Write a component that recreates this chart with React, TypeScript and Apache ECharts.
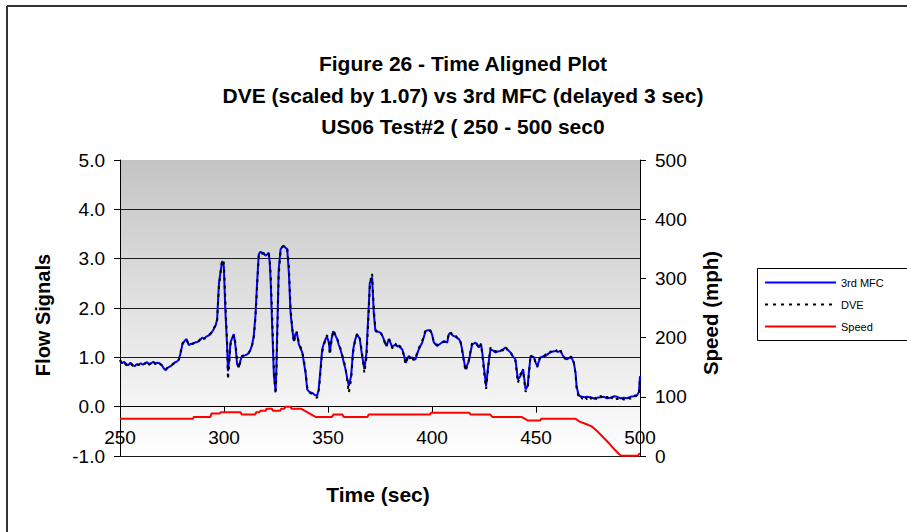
import React, { useEffect, useRef } from "react";
import * as echarts from "echarts";

const titleLines = [
  "Figure 26 - Time Aligned Plot",
  "DVE (scaled by 1.07) vs 3rd MFC (delayed 3 sec)",
  "US06 Test#2 ( 250 - 500 sec0",
];
const seriesNames = ["3rd MFC", "DVE", "Speed"];
const xAxisTitle = "Time (sec)";
const leftAxisTitle = "Flow Signals";
const rightAxisTitle = "Speed (mph)";

// 3rd MFC flow signal [time (s), value]
const mfcPoints: [number, number][] = [
  [250, 0.93], [251, 0.88], [252, 0.91], [253, 0.86], [254, 0.84], [255, 0.89], [256, 0.85],
  [257, 0.82], [258, 0.86], [259, 0.85], [260, 0.88], [261, 0.85], [262, 0.88], [263, 0.9],
  [264, 0.86], [265, 0.88], [266, 0.91], [267, 0.87], [268, 0.89], [269, 0.88], [270, 0.85],
  [271, 0.78], [272, 0.74], [273, 0.79], [274.3, 0.82], [275.5, 0.86], [276.5, 0.9], [277.5, 0.92],
  [278.3, 0.95], [279.2, 1.1], [280, 1.26], [281, 1.33], [282, 1.37], [283, 1.25], [284, 1.27],
  [285, 1.28], [286, 1.3], [287, 1.31], [288, 1.33], [289.5, 1.4], [290.5, 1.38], [291.5, 1.42],
  [292.5, 1.44], [293.5, 1.47], [294.3, 1.52], [295, 1.57], [296, 1.65], [296.7, 1.77], [297.2, 2.2],
  [297.6, 2.51], [298.3, 2.72], [299.1, 2.95], [299.9, 2.85], [300.7, 1.9], [301.5, 1.23], [301.9, 0.72],
  [302.5, 0.95], [303.1, 1.3], [304, 1.4], [304.7, 1.47], [305.5, 1.23], [306.3, 0.86], [307.1, 0.8],
  [308, 0.95], [308.7, 1.03], [310, 1.04], [311.2, 1.06], [312, 1.1], [312.7, 1.15], [313.5, 1.25],
  [314.3, 1.43], [315.1, 1.84], [316, 2.58], [316.7, 3.09], [317.5, 3.14], [318.4, 3.12], [319.2, 3.1],
  [320, 3.06], [320.8, 3.09], [321.5, 3.12], [322, 2.9], [322.4, 2.58], [323.2, 1.57], [324, 0.62],
  [324.8, 0.32], [325.2, 0.8], [325.6, 1.57], [326.3, 2.78], [327.2, 3.19], [328, 3.24], [328.8, 3.26],
  [329.6, 3.22], [330.4, 3.19], [331.2, 2.7], [332, 1.9], [332.8, 1.57], [333.6, 1.33], [334.4, 1.48],
  [335, 1.5], [336, 1.26], [337.6, 1.1], [338.4, 0.9], [339.2, 0.69], [340, 0.35], [341, 0.3],
  [342.4, 0.28], [343.5, 0.24], [344.8, 0.22], [345.5, 0.35], [346.1, 0.62], [347.2, 1.16], [348, 1.28],
  [348.8, 1.37], [349.5, 1.42], [350.4, 1.3], [350.9, 1.1], [351.6, 1.35], [352.5, 1.53], [353.5, 1.45],
  [354.4, 1.37], [355.2, 1.25], [356, 1.16], [357, 1.0], [358.4, 0.76], [359.2, 0.58], [360, 0.42],
  [361.1, 0.62], [362.1, 1.16], [363, 1.35], [364, 1.47], [365.3, 1.37], [366.4, 1.03], [367.5, 0.76],
  [368.5, 1.1], [369.6, 2.04], [370.1, 2.51], [370.6, 2.55], [371.2, 2.62], [372, 1.9], [372.8, 1.53],
  [374, 1.52], [375.2, 1.5], [376, 1.45], [376.8, 1.37], [377.5, 1.28], [378.1, 1.23], [379.2, 1.37],
  [380, 1.3], [380.9, 1.2], [381.7, 1.24], [382.5, 1.26], [383.3, 1.22], [384, 1.23], [385.7, 1.16],
  [386.5, 1.05], [387.3, 0.89], [388, 0.95], [388.8, 1.03], [389.6, 0.98], [390.4, 1.0], [391.2, 0.95],
  [392, 0.96], [393.6, 1.16], [395.3, 1.3], [396.9, 1.53], [398, 1.55], [399.3, 1.55], [400.1, 1.45],
  [400.9, 1.3], [402.5, 1.23], [404.1, 1.28], [405.7, 1.33], [407.3, 1.3], [408.1, 1.47], [408.9, 1.5],
  [410, 1.44], [411.3, 1.42], [412.9, 1.37], [413.7, 1.31], [414.5, 1.16], [415.3, 0.95], [416.1, 0.76],
  [417, 0.85], [417.7, 0.92], [418.5, 1.1], [419.3, 1.26], [420.9, 1.3], [421.7, 1.25], [422.5, 1.2],
  [423.6, 1.26], [424.3, 1.05], [424.9, 0.82], [426, 0.42], [427, 0.82], [428.1, 1.16], [429.3, 1.14],
  [430.5, 1.1], [431.7, 1.12], [432.9, 1.13], [434.1, 1.16], [435.3, 1.2], [436.5, 1.15], [437.7, 1.1],
  [438.9, 1.02], [440.1, 0.96], [441.3, 0.55], [442.5, 0.62], [443.8, 0.76], [445, 0.35], [446, 0.42],
  [446.7, 0.75], [447.4, 1.03], [448.2, 1.02], [449, 1.0], [449.8, 0.9], [450.6, 0.82], [451.4, 0.92],
  [452.2, 1.0], [453.4, 1.02], [454.6, 1.03], [455.8, 1.07], [457, 1.1], [458.2, 1.12], [459.4, 1.13],
  [460.6, 1.11], [461.8, 1.13], [462.6, 1.06], [463.4, 1.0], [464.2, 0.98], [465, 0.96], [466, 0.99],
  [466.9, 1.0], [467.6, 0.95], [468.2, 0.89], [469, 0.69], [469.5, 0.42], [470.1, 0.3], [470.6, 0.23],
  [471.4, 0.21], [472.2, 0.2], [473.4, 0.19], [474.6, 0.2], [475.8, 0.19], [477, 0.18], [478.2, 0.16],
  [479.4, 0.18], [481, 0.19], [482.6, 0.2], [484.2, 0.17], [485.8, 0.18], [487.4, 0.21], [489, 0.2],
  [490.6, 0.17], [492.2, 0.18], [493.8, 0.17], [495.4, 0.2], [497, 0.21], [498.6, 0.23], [499.5, 0.3],
  [500, 0.62],
];

// DVE flow signal (scaled) [time (s), value]
const dvePoints: [number, number][] = [
  [250, 0.95], [251, 0.87], [252, 0.9], [253, 0.84], [254, 0.86], [255, 0.88], [256, 0.83],
  [257, 0.84], [258, 0.87], [259, 0.84], [260, 0.89], [261, 0.86], [262, 0.87], [263, 0.92],
  [264, 0.85], [265, 0.89], [266, 0.93], [267, 0.86], [268, 0.9], [269, 0.87], [270, 0.84],
  [271, 0.79], [272, 0.76], [273, 0.8], [274.3, 0.83], [275.5, 0.87], [276.5, 0.89], [277.5, 0.93],
  [278.3, 0.96], [279.2, 1.12], [280, 1.28], [281, 1.35], [282, 1.36], [283, 1.26], [284, 1.28],
  [285, 1.27], [286, 1.31], [287, 1.3], [288, 1.34], [289.5, 1.42], [290.5, 1.37], [291.5, 1.43],
  [292.5, 1.45], [293.5, 1.48], [294.3, 1.53], [295, 1.58], [296, 1.66], [296.7, 1.75], [297.2, 2.15],
  [297.6, 2.45], [298.3, 2.7], [299.1, 2.98], [299.9, 2.92], [300.7, 2.1], [301.5, 1.3], [301.9, 0.55],
  [302.5, 0.85], [303.1, 1.25], [304, 1.38], [304.7, 1.45], [305.5, 1.3], [306.3, 0.95], [307.1, 0.78],
  [308, 0.92], [308.7, 1.02], [310, 1.05], [311.2, 1.07], [312, 1.09], [312.7, 1.16], [313.5, 1.24],
  [314.3, 1.4], [315.1, 1.78], [316, 2.5], [316.7, 3.05], [317.5, 3.13], [318.4, 3.1], [319.2, 3.11],
  [320, 3.08], [320.8, 3.1], [321.5, 3.1], [322, 2.98], [322.4, 2.7], [323.2, 1.8], [324, 0.75],
  [324.8, 0.25], [325.2, 0.6], [325.6, 1.4], [326.3, 2.65], [327.2, 3.15], [328, 3.23], [328.8, 3.27],
  [329.6, 3.24], [330.4, 3.2], [331.2, 2.85], [332, 2.0], [332.8, 1.6], [333.6, 1.3], [334.4, 1.46],
  [335, 1.52], [336, 1.3], [337.6, 1.12], [338.4, 0.95], [339.2, 0.72], [340, 0.4], [341, 0.28],
  [342.4, 0.26], [343.5, 0.2], [344.8, 0.18], [345.5, 0.3], [346.1, 0.55], [347.2, 1.1], [348, 1.25],
  [348.8, 1.36], [349.5, 1.45], [350.4, 1.32], [350.9, 1.05], [351.6, 1.3], [352.5, 1.55], [353.5, 1.47],
  [354.4, 1.38], [355.2, 1.27], [356, 1.18], [357, 1.02], [358.4, 0.8], [359.2, 0.55], [360, 0.28],
  [361.1, 0.55], [362.1, 1.1], [363, 1.33], [364, 1.48], [365.3, 1.4], [366.4, 1.08], [367.5, 0.68],
  [368.5, 1.0], [369.6, 1.95], [370.1, 2.45], [370.6, 2.6], [371.2, 2.7], [372, 2.0], [372.8, 1.56],
  [374, 1.5], [375.2, 1.52], [376, 1.44], [376.8, 1.38], [377.5, 1.26], [378.1, 1.21], [379.2, 1.38],
  [380, 1.32], [380.9, 1.18], [381.7, 1.25], [382.5, 1.28], [383.3, 1.2], [384, 1.25], [385.7, 1.18],
  [386.5, 1.02], [387.3, 0.86], [388, 0.97], [388.8, 1.05], [389.6, 0.96], [390.4, 1.02], [391.2, 0.94],
  [392, 0.98], [393.6, 1.18], [395.3, 1.33], [396.9, 1.55], [398, 1.57], [399.3, 1.53], [400.1, 1.47],
  [400.9, 1.28], [402.5, 1.25], [404.1, 1.3], [405.7, 1.31], [407.3, 1.32], [408.1, 1.49], [408.9, 1.52],
  [410, 1.42], [411.3, 1.44], [412.9, 1.35], [413.7, 1.33], [414.5, 1.12], [415.3, 0.92], [416.1, 0.72],
  [417, 0.83], [417.7, 0.95], [418.5, 1.12], [419.3, 1.3], [420.9, 1.28], [421.7, 1.27], [422.5, 1.18],
  [423.6, 1.28], [424.3, 1.0], [424.9, 0.75], [426, 0.36], [427, 0.78], [428.1, 1.2], [429.3, 1.12],
  [430.5, 1.13], [431.7, 1.1], [432.9, 1.15], [434.1, 1.14], [435.3, 1.22], [436.5, 1.13], [437.7, 1.12],
  [438.9, 1.0], [440.1, 0.94], [441.3, 0.48], [442.5, 0.66], [443.8, 0.72], [445, 0.3], [446, 0.38],
  [446.7, 0.7], [447.4, 1.05], [448.2, 1.0], [449, 1.03], [449.8, 0.88], [450.6, 0.8], [451.4, 0.95],
  [452.2, 1.02], [453.4, 1.0], [454.6, 1.06], [455.8, 1.05], [457, 1.12], [458.2, 1.1], [459.4, 1.16],
  [460.6, 1.09], [461.8, 1.15], [462.6, 1.04], [463.4, 1.02], [464.2, 0.96], [465, 0.98], [466, 0.97],
  [466.9, 1.02], [467.6, 0.93], [468.2, 0.9], [469, 0.66], [469.5, 0.38], [470.1, 0.26], [470.6, 0.2],
  [471.4, 0.24], [472.2, 0.16], [473.4, 0.22], [474.6, 0.14], [475.8, 0.21], [477, 0.13], [478.2, 0.19],
  [479.4, 0.14], [481, 0.22], [482.6, 0.15], [484.2, 0.2], [485.8, 0.13], [487.4, 0.23], [489, 0.15],
  [490.6, 0.2], [492.2, 0.14], [493.8, 0.2], [495.4, 0.16], [497, 0.24], [498.6, 0.2], [499.5, 0.28],
  [500, 0.55],
];

// Vehicle speed [time (s), mph]
const speedPoints: [number, number][] = [
  [250, 63], [285, 63], [285.5, 66], [293.5, 66], [294, 72], [298, 72], [298.5, 74], [308, 74],
  [308.5, 70], [315, 70], [315.5, 74], [317, 74], [317.5, 76.5], [320, 76.5], [320.5, 80], [323, 80],
  [323.5, 76.5], [327, 76.5], [327.5, 80], [329, 80], [329.5, 83], [332, 83], [332.5, 80], [337, 80],
  [341, 72], [344, 66], [352, 66], [352.5, 70], [357, 70], [357.5, 66], [369, 66], [369.5, 70],
  [399, 70], [399.5, 73], [418, 73], [418.5, 70], [428, 70], [429, 66], [443, 66], [446, 60],
  [452, 60], [452.5, 63], [469, 63], [471, 58], [474, 54], [477, 49.5], [480, 40], [482, 32.6],
  [485, 22], [488, 10], [490, 3], [491, 0.5], [499, 0.5], [500, 5],
];

const FONT = "'Liberation Sans', Arial, sans-serif";

export default function App() {
  const ref = useRef<HTMLDivElement>(null);
  useEffect(() => {
    const chart = echarts.init(ref.current!, null, { renderer: "svg" });
    const plotHeight = 532 - 160 - 76;
    chart.setOption({
      animation: false,
      backgroundColor: "#ffffff",
      textStyle: { fontFamily: FONT, color: "#000" },
      grid: {
        left: 120,
        right: 267,
        top: 160,
        bottom: 76,
        show: true,
        borderWidth: 0,
        backgroundColor: new echarts.graphic.LinearGradient(0, 0, 0, 1, [
          { offset: 0, color: "#c4c4c4" },
          { offset: 1, color: "#ffffff" },
        ]),
      },
      xAxis: {
        type: "value",
        min: 250,
        max: 500,
        interval: 50,
        position: "bottom",
        offset: -plotHeight / 6,
        axisLine: { show: true, onZero: false, lineStyle: { color: "#000", width: 1 } },
        axisTick: { show: true, length: 6, lineStyle: { color: "#000" } },
        axisLabel: { margin: 21, fontSize: 19, color: "#000", fontFamily: FONT, showMinLabel: true, showMaxLabel: true },
        splitLine: { show: false },
      },
      yAxis: [
        {
          type: "value",
          min: -1,
          max: 5,
          interval: 1,
          position: "left",
          axisLine: { show: true, onZero: false, lineStyle: { color: "#000", width: 1 } },
          axisTick: { show: true, length: 6, lineStyle: { color: "#000" } },
          axisLabel: {
            margin: 15,
            fontSize: 19,
            color: "#000",
            fontFamily: FONT,
            formatter: (v: number) => v.toFixed(1),
          },
          splitLine: { show: true, showMaxLine: false, lineStyle: { color: "#1a1a1a", width: 1 } },
        },
        {
          type: "value",
          min: 0,
          max: 500,
          interval: 100,
          position: "right",
          axisLine: { show: true, onZero: false, lineStyle: { color: "#000", width: 1 } },
          axisTick: { show: true, length: 6, lineStyle: { color: "#000" } },
          axisLabel: { margin: 15, fontSize: 19, color: "#000", fontFamily: FONT },
          splitLine: { show: false },
        },
      ],
      legend: {
        orient: "vertical",
        left: 764,
        top: 277,
        padding: 0,
        itemWidth: 71,
        itemHeight: 12,
        itemGap: 11,
        itemStyle: { opacity: 0 },
        textStyle: { fontSize: 11, color: "#000", fontFamily: FONT },
        data: seriesNames,
      },
      graphic: [
        { type: "line", shape: { x1: 7, y1: 6, x2: 907, y2: 6 }, style: { stroke: "#333", lineWidth: 2 } },
        { type: "line", shape: { x1: 7, y1: 6, x2: 7, y2: 532 }, style: { stroke: "#333", lineWidth: 2 } },
        {
          type: "rect",
          z: 1,
          shape: { x: 757.5, y: 268.5, width: 160, height: 72 },
          style: { fill: "#fff", stroke: "#000", lineWidth: 1 },
        },
        {
          type: "text",
          x: 463,
          y: 48,
          style: {
            text: titleLines.join("\n"),
            align: "center",
            verticalAlign: "top",
            lineHeight: 31.5,
            fontSize: 21,
            fontWeight: "bold",
            fontFamily: FONT,
            fill: "#000",
          },
        },
        {
          type: "text",
          x: 43,
          y: 315,
          rotation: Math.PI / 2,
          style: {
            text: leftAxisTitle,
            align: "center",
            verticalAlign: "middle",
            fontSize: 20,
            fontWeight: "bold",
            fontFamily: FONT,
            fill: "#000",
          },
        },
        {
          type: "text",
          x: 710,
          y: 313,
          rotation: Math.PI / 2,
          style: {
            text: rightAxisTitle,
            align: "center",
            verticalAlign: "middle",
            fontSize: 20.5,
            fontWeight: "bold",
            fontFamily: FONT,
            fill: "#000",
          },
        },
        {
          type: "text",
          x: 378,
          y: 494,
          style: {
            text: xAxisTitle,
            align: "center",
            verticalAlign: "middle",
            fontSize: 21,
            fontWeight: "bold",
            fontFamily: FONT,
            fill: "#000",
          },
        },
      ],
      series: [
        {
          name: seriesNames[0],
          type: "line",
          data: mfcPoints,
          symbol: "none",
          showSymbol: false,
          color: "#0000ff",
          lineStyle: { color: "#0000ff", width: 2 },
          z: 3,
        },
        {
          name: seriesNames[1],
          type: "line",
          data: dvePoints,
          symbol: "none",
          showSymbol: false,
          color: "#000000",
          lineStyle: { color: "#000000", width: 2, type: [3, 5] },
          z: 4,
        },
        {
          name: seriesNames[2],
          type: "line",
          yAxisIndex: 1,
          data: speedPoints,
          symbol: "none",
          showSymbol: false,
          color: "#ff0000",
          lineStyle: { color: "#ff0000", width: 2 },
          z: 3,
        },
      ],
    });
    return () => chart.dispose();
  }, []);
  return (
    <div
      ref={ref}
      style={{ position: "fixed", left: 0, top: 0, width: 907, height: 532, background: "#fff" }}
    />
  );
}
